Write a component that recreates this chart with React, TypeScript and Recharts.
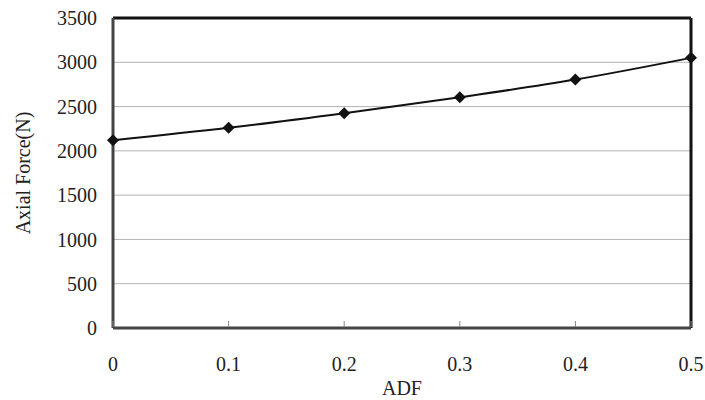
import React from 'react';
import {
  LineChart,
  Line,
  XAxis,
  YAxis,
  CartesianGrid,
  ReferenceLine,
  Label,
} from 'recharts';

const adf = [0, 0.1, 0.2, 0.3, 0.4, 0.5];
const axialForce = [2120, 2260, 2425, 2605, 2805, 3050];
const xTicks = [0, 0.1, 0.2, 0.3, 0.4, 0.5];
const yTicks = [0, 500, 1000, 1500, 2000, 2500, 3000, 3500];

const data = adf.map((x, i) => ({ adf: x, force: axialForce[i] }));

const FONT = '"Liberation Serif", "Times New Roman", serif';

// diamond marker
const Diamond = (props: any) => {
  const { cx, cy } = props;
  if (cx == null || cy == null) return null;
  const r = 6;
  return (
    <polygon
      points={`${cx},${cy - r} ${cx + r},${cy} ${cx},${cy + r} ${cx - r},${cy}`}
      fill="#111"
    />
  );
};

// x ticks: small mark pointing into the plot, label well below
const XTick = (props: any) => {
  const { x, y, payload } = props;
  return (
    <g>
      <line x1={x} y1={y - 1} x2={x} y2={y - 7} stroke="#888" strokeWidth={1} />
      <text x={x} y={y + 43} textAnchor="middle" fontFamily={FONT} fontSize={20} fill="#222">
        {String(payload.value)}
      </text>
    </g>
  );
};

const App: React.FC = () => {
  return (
    <div style={{ position: 'fixed', left: 0, top: 0, width: 705, height: 400, background: '#fff' }}>
      <LineChart
        width={705}
        height={400}
        data={data}
        margin={{ top: 18, right: 14, left: 0, bottom: 22 }}
      >
        <CartesianGrid vertical={false} stroke="#b4b4b4" strokeWidth={1} />
        <XAxis
          dataKey="adf"
          type="number"
          domain={[0, 0.5]}
          ticks={xTicks}
          height={50}
          tickSize={0}
          tickMargin={0}
          tickLine={false}
          tick={<XTick />}
          axisLine={{ stroke: '#444', strokeWidth: 3 }}
        >
          <Label
            content={(p: any) => {
              const vb = p.viewBox;
              return (
                <text
                  x={vb.x + vb.width / 2}
                  y={395}
                  textAnchor="middle"
                  fontFamily={FONT}
                  fontSize={20}
                  fill="#222"
                >
                  ADF
                </text>
              );
            }}
          />
        </XAxis>
        <YAxis
          type="number"
          domain={[0, 3500]}
          ticks={yTicks}
          width={113}
          tickSize={0}
          tickMargin={16}
          tickLine={false}
          tick={{ fontFamily: FONT, fontSize: 20, fill: '#222' }}
          axisLine={{ stroke: '#444', strokeWidth: 3 }}
        >
          <Label
            content={(p: any) => {
              const vb = p.viewBox;
              const cy = vb.y + vb.height / 2;
              return (
                <text
                  x={30}
                  y={cy}
                  transform={`rotate(-90, 30, ${cy})`}
                  textAnchor="middle"
                  fontFamily={FONT}
                  fontSize={20}
                  fill="#222"
                >
                  Axial Force(N)
                </text>
              );
            }}
          />
        </YAxis>
        <ReferenceLine y={3500} stroke="#111" strokeWidth={3} />
        <ReferenceLine x={0.5} stroke="#111" strokeWidth={3} />
        <Line
          type="monotone"
          dataKey="force"
          stroke="#111"
          strokeWidth={2}
          dot={<Diamond />}
          activeDot={false}
          isAnimationActive={false}
        />
      </LineChart>
    </div>
  );
};

export default App;
